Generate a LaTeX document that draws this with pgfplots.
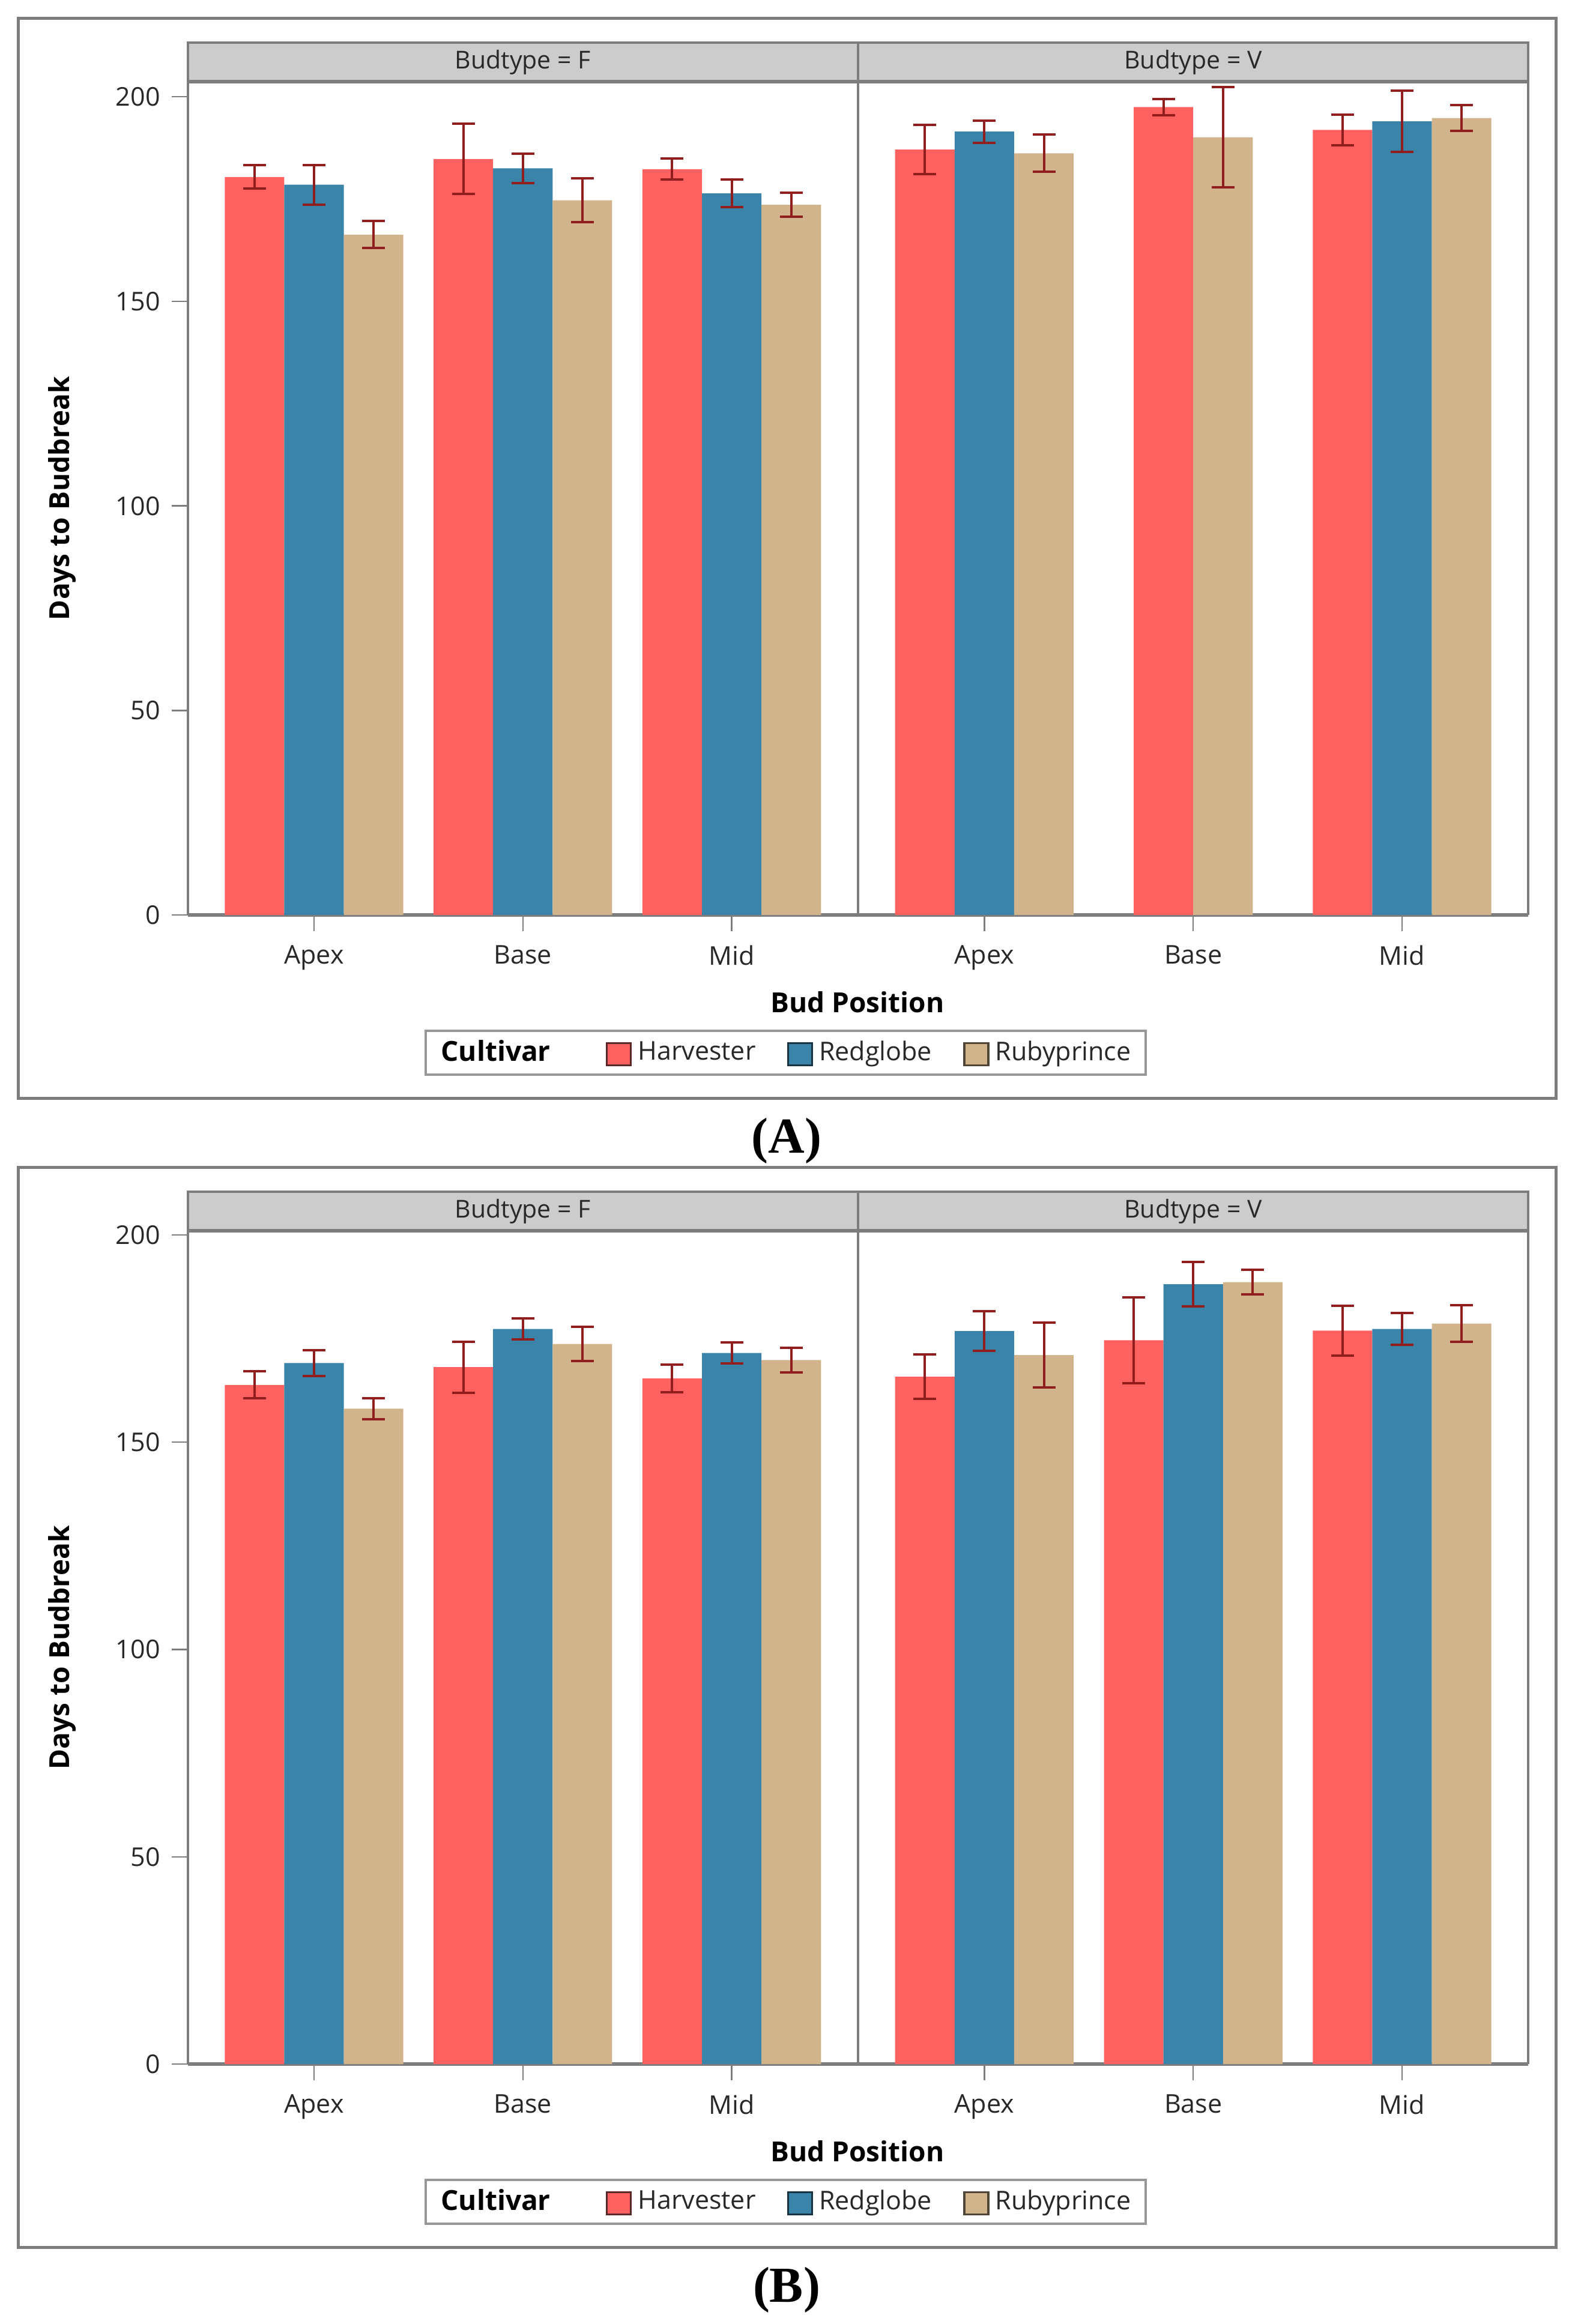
\documentclass[border=0pt]{standalone}
\usepackage{fontspec}
\setmainfont{Open Sans}
\newfontfamily\serifb{Liberation Serif}
\usepackage{pgfplots}
\usepackage{pgfplotstable}
\pgfplotsset{compat=1.18}
\definecolor{harv}{RGB}{255,97,97}
\definecolor{harvd}{RGB}{90,40,40}
\definecolor{redg}{RGB}{58,131,169}
\definecolor{redgd}{RGB}{25,50,65}
\definecolor{ruby}{RGB}{210,180,140}
\definecolor{rubyd}{RGB}{80,70,55}
\definecolor{errc}{RGB}{145,30,30}
\definecolor{fgray}{RGB}{125,125,125}
\definecolor{hgray}{RGB}{204,204,204}
\definecolor{tgray}{RGB}{40,40,40}

% ---------- Panel A, Budtype F ----------
\pgfplotstableread{
x y e
-0.285 180.4 2.85
0.715 184.8 8.6
1.715 182.3 2.55
}\AFh
\pgfplotstableread{
x y e
0 178.5 4.85
1 182.5 3.65
2 176.4 3.35
}\AFr
\pgfplotstableread{
x y e
0.285 166.3 3.3
1.285 174.7 5.35
2.285 173.6 2.95
}\AFb
% ---------- Panel A, Budtype V ----------
\pgfplotstableread{
x y e
-0.285 187.1 6.0
0.8575 197.5 2.0
1.715 191.9 3.7
}\AVh
\pgfplotstableread{
x y e
0 191.5 2.7
2 194.0 7.45
}\AVr
\pgfplotstableread{
x y e
0.285 186.2 4.55
1.1425 190.1 12.25
2.285 194.8 3.15
}\AVb
% ---------- Panel B, Budtype F ----------
\pgfplotstableread{
x y e
-0.285 163.8 3.25
0.715 168.1 6.15
1.715 165.4 3.35
}\BFh
\pgfplotstableread{
x y e
0 169.1 3.15
1 177.3 2.5
2 171.5 2.55
}\BFr
\pgfplotstableread{
x y e
0.285 158.1 2.5
1.285 173.7 4.1
2.285 169.8 2.9
}\BFb
% ---------- Panel B, Budtype V ----------
\pgfplotstableread{
x y e
-0.285 165.8 5.4
0.715 174.6 10.4
1.715 176.9 6.05
}\BVh
\pgfplotstableread{
x y e
0 176.8 4.75
1 188.1 5.4
2 177.3 3.85
}\BVr
\pgfplotstableread{
x y e
0.285 171.0 7.85
1.285 188.6 3.0
2.285 178.6 4.45
}\BVb

\pgfplotsset{
  facet/.style={
    scale only axis, width=223.28pt, height=277.6pt,
    xmin=-0.605, xmax=2.605, ymin=0,
    separate axis lines,
    axis line style={draw=fgray, line width=0.8pt},
    x axis line style={line width=1.3pt},
    xtick={0,1,2}, xticklabels={Apex,Base,Mid},
    tick align=outside, major tick length=5.4pt,
    xtick pos=bottom, ytick pos=left,
    tick style={draw=fgray, line width=0.5pt},
    ticklabel style={font=\fontsize{8.6}{10}\selectfont, text=tgray},
    xticklabel style={anchor=north, inner sep=0pt, yshift=-4.6pt},
    yticklabel style={anchor=east, inner sep=0pt, xshift=-3.6pt},
    /pgf/number format/assume math mode=true,
    clip=false,
  },
  bars/.style={ybar, bar width=0.285, bar shift=0pt, draw=none, fill=#1, forget plot,
    error bars/.cd, y dir=both, y explicit,
    error bar style={draw=errc, line width=0.8pt},
    error mark=-,
    error mark options={draw=errc, line width=0.8pt, mark size=3.8pt, rotate=90}},
  leftfacet/.style={
    facet,
    ytick={0,50,100,150,200},
    ylabel={Days to Budbreak},
    ylabel style={at={(axis description cs:-0.1869,0.5)}, anchor=center,
      font=\fontsize{9.2}{10}\selectfont\bfseries},
    xlabel={Bud Position},
    xlabel style={at={(axis description cs:0.9991,-0.1045)}, anchor=center,
      font=\fontsize{9.2}{10}\selectfont\bfseries},
    legend columns=-1,
    legend style={at={(axis description cs:0.8925,-0.1653)}, anchor=center,
      draw=fgray!80, line width=0.8pt, inner xsep=3pt, inner ysep=1pt,
      font=\fontsize{8.6}{10}\selectfont, text=tgray,
      /tikz/every even column/.append style={column sep=8.4pt},
      /tikz/every odd column/.append style={column sep=0pt}},
    legend image code/.code={\draw[##1, line width=0.7pt] (0pt,-4.2pt) rectangle (8pt,3.2pt);},
  },
  rightfacet/.style={facet, ytick=\empty},
}

\begin{document}
\begin{tikzpicture}
\useasboundingbox (0pt,0pt) rectangle (525.4pt,-774.2pt);

% ================= Panel A =================
\draw[fgray, line width=1pt] (6.1pt,-6.12pt) rectangle (518.2pt,-365.8pt);
\draw[fgray, line width=0.8pt, fill=hgray] (62.52pt,-14.2pt) rectangle (285.8pt,-27.2pt);
\draw[fgray, line width=0.8pt, fill=hgray] (285.8pt,-14.2pt) rectangle (509.0pt,-27.2pt);
\node[font=\fontsize{8.2}{10}\selectfont, text=tgray] at (174.16pt,-20.7pt) {Budtype = F};
\node[font=\fontsize{8.2}{10}\selectfont, text=tgray] at (397.4pt,-20.7pt) {Budtype = V};

\begin{axis}[leftfacet, ymax=203.7, at={(62.52pt,-304.8pt)}, anchor=south west]
\addplot[bars=harv] table[x=x, y=y, y error=e] {\AFh};
\addplot[bars=redg] table[x=x, y=y, y error=e] {\AFr};
\addplot[bars=ruby] table[x=x, y=y, y error=e] {\AFb};
\addlegendimage{empty legend}
\addlegendentry{\fontsize{9.2}{10}\selectfont\bfseries\color{black}Cultivar\hspace*{8pt}}
\addlegendimage{fill=harv, draw=harvd}
\addlegendentry{Harvester}
\addlegendimage{fill=redg, draw=redgd}
\addlegendentry{Redglobe}
\addlegendimage{fill=ruby, draw=rubyd}
\addlegendentry{Rubyprince}
\end{axis}
\begin{axis}[rightfacet, ymax=203.7, at={(285.8pt,-304.8pt)}, anchor=south west]
\addplot[bars=harv] table[x=x, y=y, y error=e] {\AVh};
\addplot[bars=redg] table[x=x, y=y, y error=e] {\AVr};
\addplot[bars=ruby] table[x=x, y=y, y error=e] {\AVb};
\end{axis}
\node[font=\serifb\fontsize{16.8}{18}\selectfont\bfseries] at (262pt,-380pt) {(A)};

% ================= Panel B =================
\draw[fgray, line width=1pt] (6.1pt,-388.9pt) rectangle (518.2pt,-748.6pt);
\draw[fgray, line width=0.8pt, fill=hgray] (62.52pt,-397.0pt) rectangle (285.8pt,-410.0pt);
\draw[fgray, line width=0.8pt, fill=hgray] (285.8pt,-397.0pt) rectangle (509.0pt,-410.0pt);
\node[font=\fontsize{8.2}{10}\selectfont, text=tgray] at (174.16pt,-403.5pt) {Budtype = F};
\node[font=\fontsize{8.2}{10}\selectfont, text=tgray] at (397.4pt,-403.5pt) {Budtype = V};

\begin{axis}[leftfacet, ymax=201.0, at={(62.52pt,-687.6pt)}, anchor=south west]
\addplot[bars=harv] table[x=x, y=y, y error=e] {\BFh};
\addplot[bars=redg] table[x=x, y=y, y error=e] {\BFr};
\addplot[bars=ruby] table[x=x, y=y, y error=e] {\BFb};
\addlegendimage{empty legend}
\addlegendentry{\fontsize{9.2}{10}\selectfont\bfseries\color{black}Cultivar\hspace*{8pt}}
\addlegendimage{fill=harv, draw=harvd}
\addlegendentry{Harvester}
\addlegendimage{fill=redg, draw=redgd}
\addlegendentry{Redglobe}
\addlegendimage{fill=ruby, draw=rubyd}
\addlegendentry{Rubyprince}
\end{axis}
\begin{axis}[rightfacet, ymax=201.0, at={(285.8pt,-687.6pt)}, anchor=south west]
\addplot[bars=harv] table[x=x, y=y, y error=e] {\BVh};
\addplot[bars=redg] table[x=x, y=y, y error=e] {\BVr};
\addplot[bars=ruby] table[x=x, y=y, y error=e] {\BVb};
\end{axis}
\node[font=\serifb\fontsize{16.8}{18}\selectfont\bfseries] at (262pt,-762.8pt) {(B)};
\end{tikzpicture}
\end{document}
